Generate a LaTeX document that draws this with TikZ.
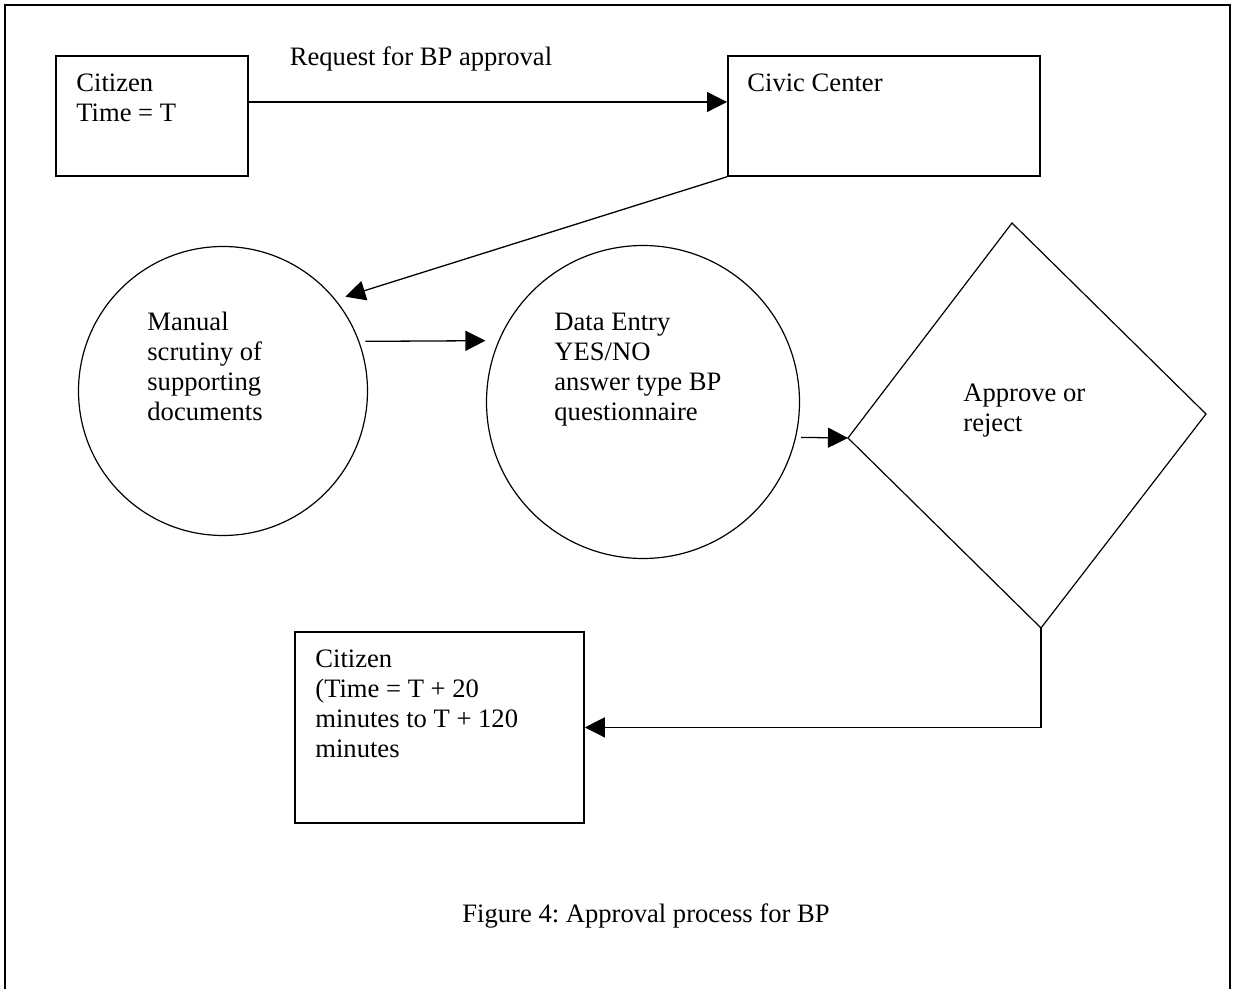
\documentclass[tikz,border=0pt]{standalone}
\usepackage{fontspec}
\setmainfont{Liberation Serif}
\usetikzlibrary{arrows.meta, positioning, calc}
\frenchspacing

\begin{document}
\begin{tikzpicture}[x=0.5pt, y=-0.5pt, >={Triangle[length=10pt, width=10pt]},
    font=\fontsize{13.3}{15}\selectfont,
    execute at begin node={\spaceskip=0pt\xspaceskip=0pt\relax}]
    \useasboundingbox (0,0) rectangle (1233,989);
    \draw[line width=1.2pt] (5,989) -- (5,5) -- (1230,5) -- (1230,989);
    \begin{scope}[every node/.style={draw, line width=0.9pt, inner sep=0pt, anchor=north west}]
        \node[minimum width=96pt, minimum height=60pt] (citizen) at (55,55) {};
        \node[minimum width=156pt, minimum height=60pt] (civic) at (727,55) {};
        \node[minimum width=144.5pt, minimum height=95.5pt] (citizenback) at (294,631) {};
    \end{scope}
    \begin{scope}[every node/.style={draw, circle, line width=0.6pt, inner sep=0pt}]
        \node[minimum size=144.5pt] (scrutiny) at (223,391) {};
        \node[minimum size=156.5pt] (dataentry) at (643,402) {};
    \end{scope}
    \coordinate (dtop) at (1012,223);
    \coordinate (dright) at (1206,414);
    \coordinate (dbottom) at (1041,628);
    \coordinate (dleft) at (848,438);
    \draw[line width=0.6pt] (dtop) -- (dright) -- (dbottom) -- (dleft) -- cycle;
    \begin{scope}[every node/.style={anchor=base west, inner sep=0pt, text width=130pt}]
        \node (citizentext) at (76,92) {Citizen\\Time = T};
        \node (civictext) at (747,92) {Civic Center};
        \node (scrutinytext) at (147,331) {Manual\\scrutiny of\\supporting\\documents};
        \node (dataentrytext) at (554,331) {Data Entry\\YES/NO\\answer type BP\\questionnaire};
        \node (decidetext) at (963,402) {Approve or\\reject};
        \node (citizenbacktext) at (315,668) {Citizen\\(Time = T + 20\\minutes to T + 120\\minutes};
    \end{scope}
    \node[anchor=base, inner sep=0pt] (request) at (421,66) {Request for BP approval};
    \node[anchor=base, inner sep=0pt] (caption) at (646,922) {Figure 4: Approval process for BP};
    \begin{scope}[line width=0.65pt]
        \draw[->] ([yshift=-23.5pt]citizen.north east) -- ([yshift=-23.5pt]civic.north west);
        \draw[->, shorten >=5pt] (civic.south west) -- (scrutiny.39);
        \draw[->, shorten <=3pt, shorten >=6.5pt] (scrutiny.20) -- (dataentry.157);
        \draw[->, shorten <=2.5pt] (dataentry.-13) -- (dleft);
        \draw[->] (dbottom) |- (citizenback.east);
    \end{scope}
\end{tikzpicture}
\end{document}
